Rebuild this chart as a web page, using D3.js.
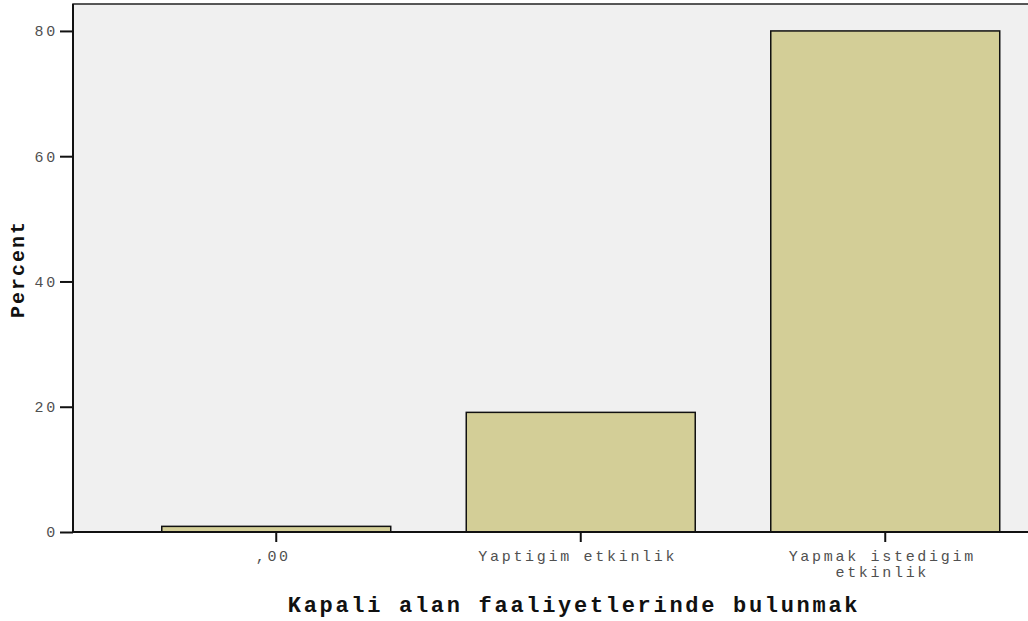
<!DOCTYPE html>
<html>
<head>
<meta charset="utf-8">
<script src="https://cdn.jsdelivr.net/npm/d3@7"></script>
<style>
  body { margin: 0; background: #fff; }
  svg { display: block; }
  text { font-family: "Liberation Mono", "DejaVu Sans Mono", monospace; }
</style>
</head>
<body>
<svg id="chart" width="1028" height="621"></svg>
<script>
const categories = [",00", "Yaptigim etkinlik", "Yapmak istedigim etkinlik"];
const categoryLines = [[",00"], ["Yaptigim etkinlik"], ["Yapmak istedigim", "etkinlik"]];
const percents = [0.9, 19.1, 80.0];
const yTicks = [0, 20, 40, 60, 80];
const xTitle = "Kapali alan faaliyetlerinde bulunmak";
const yTitle = "Percent";

const svg = d3.select("#chart");

const plot = { left: 73, top: 4, right: 1028, bottom: 532 };

const xScale = d3.scaleBand()
    .domain(categories)
    .range([124, 1037.5])
    .paddingInner(0.248)
    .paddingOuter(0.124);

const yScale = d3.scaleLinear()
    .domain([0, 84.3])
    .range([plot.bottom, plot.top]);

// plot background
svg.append("rect")
    .attr("x", plot.left)
    .attr("y", plot.top)
    .attr("width", plot.right - plot.left + 2)
    .attr("height", plot.bottom - plot.top)
    .attr("fill", "#f0f0f0")
    .attr("stroke", "#222")
    .attr("stroke-width", 1.5);

// bars
svg.selectAll(".bar")
    .data(categories)
    .join("rect")
    .attr("class", "bar")
    .attr("x", d => xScale(d))
    .attr("width", xScale.bandwidth())
    .attr("y", (d, i) => yScale(percents[i]))
    .attr("height", (d, i) => plot.bottom - yScale(percents[i]))
    .attr("fill", "#d3ce97")
    .attr("stroke", "#111")
    .attr("stroke-width", 1.5);

// y axis
const yAxis = d3.axisLeft(yScale)
    .tickValues(yTicks)
    .tickSize(13)
    .tickPadding(2)
    .tickFormat(d3.format("d"));

const yg = svg.append("g")
    .attr("transform", `translate(${plot.left},0)`)
    .call(yAxis);
yg.select(".domain").attr("stroke", "#111").attr("stroke-width", 2).attr("d", `M0,${plot.top}V${plot.bottom}`);
yg.selectAll(".tick line").attr("stroke", "#111").attr("stroke-width", 2);
yg.selectAll(".tick text")
    .attr("font-size", 15)
    .attr("letter-spacing", 2.7)
    .attr("fill", "#505050")
    .attr("font-family", "Liberation Mono, monospace");

// x axis
const xAxis = d3.axisBottom(xScale)
    .tickSize(10);

const xg = svg.append("g")
    .attr("transform", `translate(0,${plot.bottom})`)
    .call(xAxis);
xg.select(".domain").attr("stroke", "#111").attr("stroke-width", 2).attr("d", `M${plot.left},0H${plot.right}`);
xg.selectAll(".tick line").attr("stroke", "#111").attr("stroke-width", 2);
xg.selectAll(".tick text")
    .attr("font-size", 15)
    .attr("letter-spacing", 2.7)
    .attr("fill", "#505050")
    .attr("font-family", "Liberation Mono, monospace")
    .attr("dy", null)
    .attr("y", null)
    .text(null)
    .each(function(d, i) {
        d3.select(this).selectAll("tspan")
            .data(categoryLines[i])
            .join("tspan")
            .attr("x", -3)
            .attr("y", (l, j) => 29 + j * 16)
            .text(l => l);
    });

// axis titles
svg.append("text")
    .attr("x", 574)
    .attr("y", 612)
    .attr("text-anchor", "middle")
    .attr("font-size", 22)
    .attr("letter-spacing", 2.7)
    .attr("font-weight", "bold")
    .attr("fill", "#111")
    .text(xTitle);

svg.append("text")
    .attr("transform", `translate(24,${(plot.top + plot.bottom) / 2 + 1}) rotate(-90)`)
    .attr("text-anchor", "middle")
    .attr("font-size", 20)
    .attr("letter-spacing", 2)
    .attr("font-weight", "bold")
    .attr("fill", "#111")
    .text(yTitle);
</script>
</body>
</html>
